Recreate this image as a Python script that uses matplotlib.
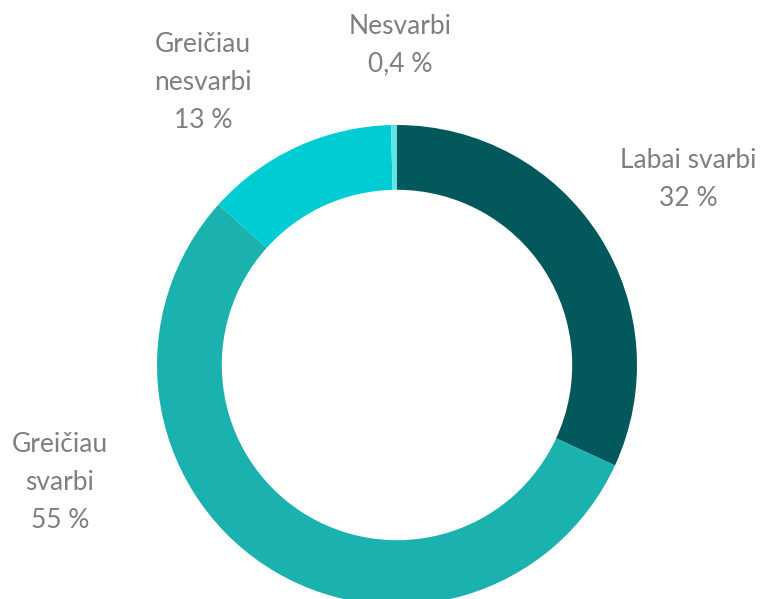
import matplotlib
matplotlib.use("Agg")
import matplotlib.pyplot as plt

# data
labels  = ["Labai svarbi", "Greičiau svarbi", "Greičiau nesvarbi", "Nesvarbi"]
values  = [32, 55, 13, 0.4]
texts   = ["Labai\u00a0svarbi\n32 %", "Greičiau\nsvarbi\n55 %", "Greičiau\nnesvarbi\n13 %", "Nesvarbi\n0,4 %"]
colors  = ["#02585B", "#1BB1AF", "#00CDD3", "#5FE3E3"]

W, H = 774, 599
fig = plt.figure(figsize=(W / 100, H / 100), dpi=100)
ax = fig.add_axes([0, 0, 1, 1])

cx, cy, r = 397, H - 365, 240
ax.pie(values, colors=colors, startangle=90, counterclock=False,
       center=(cx, cy), radius=r, frame=True,
       wedgeprops=dict(width=r * 0.27, linewidth=0))
ax.set_xlim(0, W)
ax.set_ylim(0, H)
ax.set_aspect("equal")
ax.axis("off")

# label positions (pixel coords from top)
pos = [(688, 180), (60, 483), (203, 82), (400, 45)]
for t, (px, py) in zip(texts, pos):
    ax.text(px, H - py, t, ha="center", va="center", fontsize=19,
            color="#7F7F7F", family="Lato", linespacing=1.65)

fig.savefig("out.png", dpi=100)
